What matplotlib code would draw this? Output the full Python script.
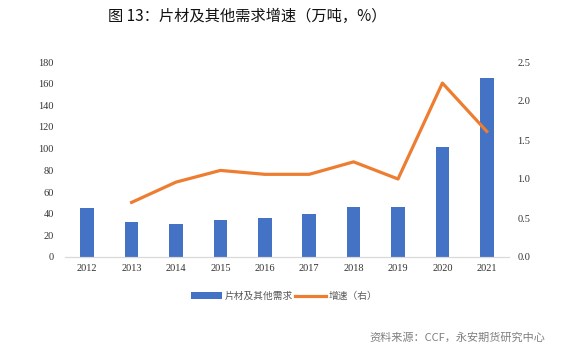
import matplotlib
matplotlib.use("Agg")
import matplotlib.pyplot as plt
import numpy as np

plt.rcParams['font.family'] = ['Noto Sans CJK SC', 'DejaVu Sans']

years = ['2012', '2013', '2014', '2015', '2016', '2017', '2018', '2019', '2020', '2021']
demand = [45, 32, 30.5, 34, 36, 39.5, 46, 46, 102, 165]
growth = [np.nan, 0.70, 0.96, 1.11, 1.06, 1.06, 1.22, 1.00, 2.23, 1.61]

fig = plt.figure(figsize=(5.65, 3.47), dpi=100)
ax = fig.add_axes([65 / 565, 1 - 257 / 347, 444 / 565, 195 / 347])
ax2 = ax.twinx()

x = np.arange(len(years))
ax.bar(x, demand, width=0.31, color='#4472C4', label='片材及其他需求')
ax2.plot(x, growth, color='#ED7D31', linewidth=2.3, label='增速（右）')

ax.set_xlim(-0.5, len(years) - 0.5)
ax.set_ylim(0, 180)
ax.set_yticks(np.arange(0, 181, 20))
ax2.set_ylim(0, 2.5)
ax2.set_yticks(np.arange(0, 2.51, 0.5))
ax2.set_yticklabels([f'{v:.1f}' for v in np.arange(0, 2.51, 0.5)])
ax.set_xticks(x)
ax.set_xticklabels(years)

for a in (ax, ax2):
    for s in ['top', 'left', 'right']:
        a.spines[s].set_visible(False)
    a.spines['bottom'].set_color('#D9D9D9')
    a.tick_params(length=0, labelsize=7.5, colors='#333333')
    for lab in a.get_xticklabels() + a.get_yticklabels():
        lab.set_family('Liberation Serif')
ax.tick_params(axis='y', pad=8)
ax2.tick_params(axis='y', pad=6)
ax.tick_params(axis='x', pad=5)

h1, l1 = ax.get_legend_handles_labels()
h2, l2 = ax2.get_legend_handles_labels()
leg = fig.legend(h1 + h2, l1 + l2, loc='center', bbox_to_anchor=(284 / 565, 1 - 296 / 347),
                 ncol=2, frameon=False, fontsize=7, handlelength=3.2, handletextpad=0.3,
                 columnspacing=0.2)
for t in leg.get_texts():
    t.set_color('#595959')

fig.text(247 / 565, 1 - 16 / 347, '图 13：片材及其他需求增速（万吨，%）', ha='center', va='center',
         fontsize=11, color='#111111')
fig.text(545 / 565, 1 - 337 / 347, '资料来源：CCF，永安期货研究中心', ha='right', va='center',
         fontsize=8, color='#7F7F7F')

fig.savefig('out.png', dpi=100)
